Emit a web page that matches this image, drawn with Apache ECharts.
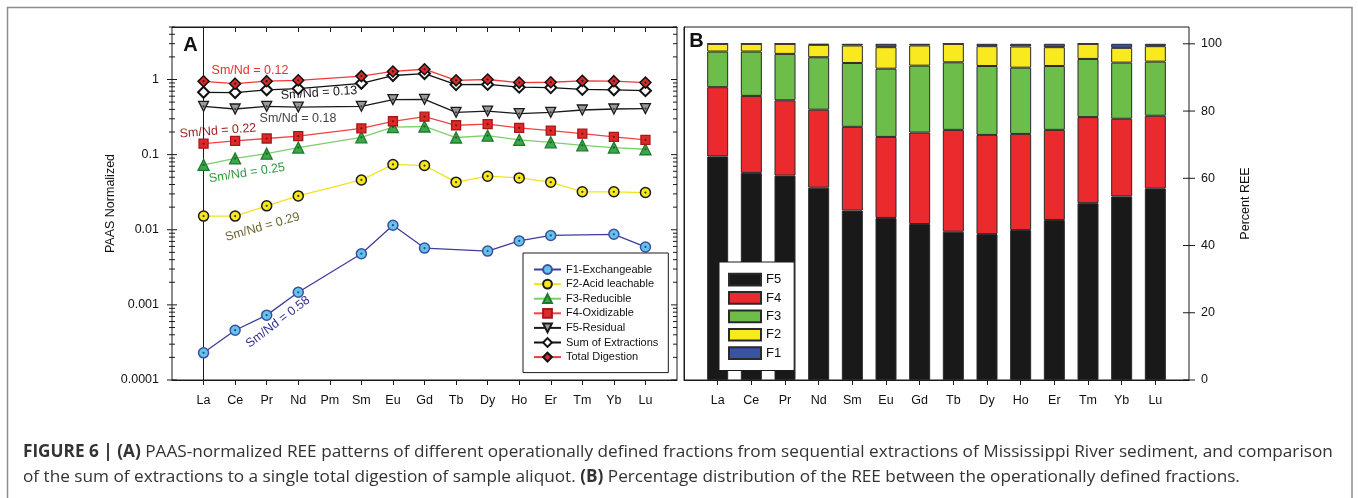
<!DOCTYPE html>
<html><head><meta charset="utf-8">
<script src="https://cdn.jsdelivr.net/npm/echarts@6/dist/echarts.min.js"></script>
<style>html,body{margin:0;padding:0;background:#fff}#c{width:1358px;height:498px}</style>
</head><body><div id="c"></div>
<script>
// ---------- data ----------
const categories = ['La','Ce','Pr','Nd','Pm','Sm','Eu','Gd','Tb','Dy','Ho','Er','Tm','Yb','Lu'];
const yTickLabels = ['0.0001','0.001','0.01','0.1','1'];
const f1Exch  = [0.00023,0.00046,0.00073,0.00147,null,0.0048,0.0115,0.0057,null,0.0052,0.0071,0.0084,null,0.0087,0.0059];
const f2Acid  = [0.0152,0.0152,0.0208,0.0282,null,0.046,0.074,0.0716,0.043,0.0516,0.049,0.043,0.032,0.032,0.0313];
const f3Red   = [0.073,0.089,0.103,0.124,null,0.170,0.233,0.237,0.169,0.179,0.157,0.146,0.133,0.124,0.118];
const f4Oxid  = [0.140,0.152,0.164,0.176,null,0.224,0.278,0.320,0.246,0.254,0.227,0.209,0.190,0.172,0.157];
const f5Resid = [0.44,0.405,0.44,0.43,null,0.44,0.54,0.545,0.366,0.38,0.352,0.366,0.393,0.405,0.41];
const sumExtr = [0.676,0.67,0.73,0.757,null,0.89,1.13,1.2,0.855,0.86,0.79,0.78,0.74,0.73,0.71];
const totalDig= [0.946,0.88,0.95,0.975,null,1.11,1.28,1.37,0.975,1.0,0.91,0.92,0.96,0.95,0.91];

const barCategories = ['La','Ce','Pr','Nd','Sm','Eu','Gd','Tb','Dy','Ho','Er','Tm','Yb','Lu'];
const pctF5 = [66.5,61.6,60.8,57.2,50.4,48.2,46.4,44.1,43.4,44.6,47.6,52.6,54.6,57.0];
const pctF4 = [20.6,22.9,22.4,23.2,24.9,24.1,27.2,30.3,29.5,28.6,26.8,25.6,23.1,21.6];
const pctF3 = [10.6,13.2,13.8,15.6,19.0,20.3,19.9,20.1,20.5,19.7,19.0,17.3,16.7,16.1];
const pctF2 = [2.3,2.3,3.0,3.7,5.2,6.4,6.0,5.5,5.9,6.3,5.6,4.5,4.4,4.6];
const pctF1 = [0,0,0,0.3,0.5,1.0,0.5,0,0.7,0.8,1.0,0,1.2,0.7];
const percentTicks = [0,20,40,60,80,100];

// ---------- helpers ----------
const FONT = 'Liberation Sans';
const CAPFONT = 'Open Sans';
const catIdx = categories.map((c,i)=>i);
const barIdx = barCategories.map((c,i)=>i+1);
const toXY = arr => arr.map((v,i)=>[i, v == null ? null : v]);
// value first so that stacking happens on the value dimension
const toBar = arr => arr.map((v,i)=>[v, i+1]);

const minorTicks = [];
[1e-4,1e-3,1e-2,1e-1].forEach(d=>{ minorTicks.push([-1, d, 1]); for(let k=2;k<=9;k++) minorTicks.push([-1, +(d*k).toPrecision(3), 0]); });
minorTicks.push([-1, 1, 1]); [2,3,4,5].forEach(k=>minorTicks.push([-1,k,0]));

function lineSeries(name, data, o){
  return {
    name, type:'line', xAxisIndex:0, yAxisIndex:0, data: toXY(data), connectNulls:true,
    symbol:o.symbol, symbolSize:o.size, symbolRotate:o.rot||0,
    lineStyle:{color:o.line, width:1.3},
    itemStyle:{color:o.fill, borderColor:o.border, borderWidth:o.bw||1.3},
    z: o.z||2, animation:false
  };
}
function dotSeries(data, color){
  return {type:'scatter', xAxisIndex:0, yAxisIndex:0, data: toXY(data).filter(d=>d[1]!=null),
    symbol:'circle', symbolSize:2.2, itemStyle:{color}, silent:true, z:5, animation:false};
}
function barSeries(name, data, color){
  return {name, type:'bar', stack:'pct', xAxisIndex:2, yAxisIndex:1, data: toBar(data),
    encode:{x:1, y:0},
    barWidth:21, itemStyle:{color, borderColor:'#2a2a2a', borderWidth:1}, animation:false};
}

const axisBase = {axisLine:{lineStyle:{color:'#1a1a1a', width:1}}, splitLine:{show:false}};

const option = {
  backgroundColor:'#fff',
  animation:false,
  textStyle:{fontFamily:FONT},
  grid:[
    {left:172, top:27, width:505, height:353, show:true, borderColor:'#1a1a1a', borderWidth:1, containLabel:false},
    {left:684, top:27, width:505, height:353, show:true, borderColor:'#1a1a1a', borderWidth:1, containLabel:false}
  ],
  xAxis:[
    Object.assign({}, axisBase, {gridIndex:0, type:'value', min:-1, max:15, position:'bottom',
      axisTick:{show:true, length:5, customValues:catIdx, lineStyle:{color:'#1a1a1a'}},
      axisLabel:{customValues:catIdx, margin:14, fontSize:12.5, color:'#111', fontFamily:FONT,
        formatter:v=>categories[Math.round(v)] || ''}}),
    Object.assign({}, axisBase, {gridIndex:0, type:'value', min:-1, max:15, position:'top',
      axisTick:{show:true, inside:true, length:5, customValues:catIdx, lineStyle:{color:'#1a1a1a'}},
      axisLabel:{show:false}}),
    Object.assign({}, axisBase, {gridIndex:1, type:'value', min:0, max:15, position:'bottom',
      axisTick:{show:true, length:5, customValues:barIdx, lineStyle:{color:'#1a1a1a'}},
      axisLabel:{customValues:barIdx, margin:14, fontSize:12.5, color:'#111', fontFamily:FONT,
        formatter:v=>barCategories[Math.round(v)-1] || ''}})
  ],
  yAxis:[
    Object.assign({}, axisBase, {gridIndex:0, type:'log', logBase:10, min:0.0001, max:5, position:'left',
      axisTick:{show:false},
      axisLabel:{margin:13, fontSize:12.5, color:'#111', fontFamily:FONT,
        formatter:v=>{const l=Math.log10(v); if(Math.abs(l-Math.round(l))>1e-6) return ''; return yTickLabels[Math.round(l)+4] || '';}},
      name:'PAAS Normalized', nameLocation:'middle', nameRotate:90, nameGap:38,
      nameTextStyle:{fontSize:12.5, color:'#111', fontFamily:FONT}}),
    Object.assign({}, axisBase, {gridIndex:1, type:'value', min:0, max:105, position:'right',
      axisTick:{show:false},
      axisLabel:{customValues:percentTicks, margin:12, fontSize:12.5, color:'#111', fontFamily:FONT},
      name:'Percent REE', nameLocation:'middle', nameRotate:90, nameGap:50,
      nameTextStyle:{fontSize:12.5, color:'#111', fontFamily:FONT}})
  ],
  legend:[
    {data:['F1-Exchangeable','F2-Acid leachable','F3-Reducible','F4-Oxidizable','F5-Residual','Sum of Extractions','Total Digestion'],
     orient:'vertical', left:523, top:253, itemWidth:27, itemHeight:11, itemGap:3.6,
     padding:[11,10,10,10], backgroundColor:'#fff', borderColor:'#1a1a1a', borderWidth:1,
     textStyle:{fontSize:11, lineHeight:11, color:'#111', fontFamily:FONT}, selectedMode:false},
    {data:['F5','F4','F3','F2','F1'], orient:'vertical', left:719, top:262, icon:'rect',
     itemWidth:32, itemHeight:11.7, itemGap:4.7, padding:[10.7,13,10.5,9],
     backgroundColor:'#fff', borderColor:'#1a1a1a', borderWidth:1,
     textStyle:{fontSize:13, lineHeight:13, color:'#111', fontFamily:FONT}, selectedMode:false}
  ],
  series:[
    {type:'custom', xAxisIndex:0, yAxisIndex:0, data:minorTicks, encode:{x:0,y:1}, clip:false, silent:true,
     renderItem:(params, api)=>{
       const v = api.value(1), major = api.value(2);
       const pl = api.coord([-1, v]), pr = api.coord([15, v]);
       const L = major ? 5 : 3;
       return {type:'group', children:[
         {type:'line', shape:{x1:pl[0]-L, y1:pl[1], x2:pl[0]+L, y2:pl[1]}, style:{stroke:'#1a1a1a', lineWidth:1}},
         {type:'line', shape:{x1:pr[0]-L-1, y1:pr[1], x2:pr[0], y2:pr[1]}, style:{stroke:'#1a1a1a', lineWidth:1}}
       ]};
     }},
    {type:'custom', xAxisIndex:2, yAxisIndex:1, data:percentTicks.map(v=>[15, v]), encode:{x:0,y:1}, clip:false, silent:true, z:6,
     renderItem:(params, api)=>{
       const p = api.coord([15, api.value(1)]);
       return {type:'line', shape:{x1:p[0]-6, y1:p[1], x2:p[0]+6, y2:p[1]}, style:{stroke:'#1a1a1a', lineWidth:1}};
     }},
    lineSeries('F1-Exchangeable', f1Exch, {symbol:'circle', size:10, line:'#3d3d9e', fill:'#63c4e8', border:'#3b4fa3', bw:1.5}),
    lineSeries('F2-Acid leachable', f2Acid, {symbol:'circle', size:10, line:'#f2e31b', fill:'#f7e81c', border:'#1a1a1a', bw:1.5}),
    lineSeries('F3-Reducible', f3Red, {symbol:'triangle', size:11, line:'#7ccf6a', fill:'#3aa84a', border:'#1d7a2c'}),
    lineSeries('F4-Oxidizable', f4Oxid, {symbol:'rect', size:9, line:'#f24242', fill:'#e02828', border:'#a51818'}),
    lineSeries('F5-Residual', f5Resid, {symbol:'triangle', size:10, rot:180, line:'#1a1a1a', fill:'#9a9a9a', border:'#1a1a1a'}),
    lineSeries('Sum of Extractions', sumExtr, {symbol:'diamond', size:11, line:'#111', fill:'#fff', border:'#111', bw:2}),
    lineSeries('Total Digestion', totalDig, {symbol:'diamond', size:11, line:'#f23a3a', fill:'#d42a2a', border:'#111', bw:1.5, z:3}),
    dotSeries(f1Exch,'#1f2a70'), dotSeries(f2Acid,'#111'), dotSeries(f3Red,'#0f4a1a'),
    dotSeries(f4Oxid,'#5a0a0a'), dotSeries(f5Resid,'#222'), dotSeries(totalDig,'#111'),
    barSeries('F5', pctF5, '#19191a'),
    barSeries('F4', pctF4, '#ea2a2d'),
    barSeries('F3', pctF3, '#6cbd4a'),
    barSeries('F2', pctF2, '#f8ea1f'),
    barSeries('F1', pctF1, '#3a52a4')
  ],
  graphic:[
    {type:'rect', shape:{x:7.5, y:7.5, width:1344.5, height:520}, style:{fill:'none', stroke:'#8c8c8c', lineWidth:1.5}, silent:true, z:-1},
    {type:'text', x:190.5, y:45, style:{text:'A', font:'bold 20px '+FONT, fill:'#111', align:'center', verticalAlign:'middle'}},
    {type:'text', x:696.5, y:41, style:{text:'B', font:'bold 20px '+FONT, fill:'#111', align:'center', verticalAlign:'middle'}},
    {type:'text', x:250, y:70.5, style:{text:'Sm/Nd = 0.12', font:'12.5px '+FONT, fill:'#e8302e', align:'center', verticalAlign:'middle'}},
    {type:'text', x:319, y:93, rotation:0.065, style:{text:'Sm/Nd = 0.13', font:'12.5px '+FONT, fill:'#1a1a1a', align:'center', verticalAlign:'middle'}},
    {type:'text', x:298, y:119, style:{text:'Sm/Nd = 0.18', font:'12.5px '+FONT, fill:'#444', align:'center', verticalAlign:'middle'}},
    {type:'text', x:218, y:131, rotation:0.08, style:{text:'Sm/Nd = 0.22', font:'12.5px '+FONT, fill:'#9c2424', align:'center', verticalAlign:'middle'}},
    {type:'text', x:247, y:173, rotation:0.15, style:{text:'Sm/Nd = 0.25', font:'12.5px '+FONT, fill:'#2e9a3e', align:'center', verticalAlign:'middle'}},
    {type:'text', x:262.5, y:227, rotation:0.28, style:{text:'Sm/Nd = 0.29', font:'12.5px '+FONT, fill:'#6b6830', align:'center', verticalAlign:'middle'}},
    {type:'text', x:278, y:322, rotation:0.65, style:{text:'Sm/Nd = 0.58', font:'12.5px '+FONT, fill:'#33338f', align:'center', verticalAlign:'middle'}},
    {type:'text', x:23, y:452, style:{
      text:'{b|FIGURE 6 | (A)} PAAS-normalized REE patterns of different operationally defined fractions from sequential extractions of Mississippi River sediment, and comparison',
      font:'17.2px '+CAPFONT, fill:'#333', verticalAlign:'middle',
      rich:{b:{fontWeight:'bold', fontSize:17.2, fontFamily:CAPFONT, fill:'#333'}}}},
    {type:'text', x:23, y:477, style:{
      text:'of the sum of extractions to a single total digestion of sample aliquot. {b|(B)} Percentage distribution of the REE between the operationally defined fractions.',
      font:'17.2px '+CAPFONT, fill:'#333', verticalAlign:'middle',
      rich:{b:{fontWeight:'bold', fontSize:17.2, fontFamily:CAPFONT, fill:'#333'}}}}
  ]
};
const chart = echarts.init(document.getElementById('c'), null, {renderer:'canvas'});
chart.setOption(option);
</script></body></html>
